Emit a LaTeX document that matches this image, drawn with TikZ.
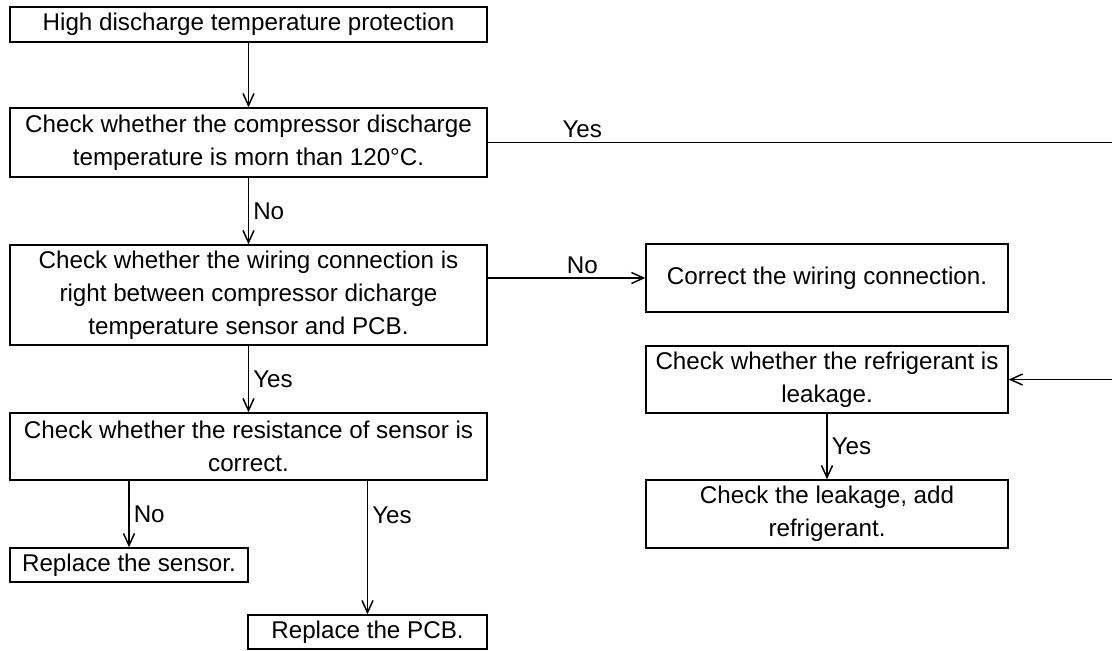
\documentclass[tikz,border=0pt]{standalone}
\usepackage{fontspec}
\setmainfont{Liberation Sans}
\usepackage{tikz}
\usetikzlibrary{arrows.meta,positioning,calc}

\begin{document}
\begin{tikzpicture}[x=0.5pt,y=-0.5pt,
        font=\fontsize{12.1}{16.5}\selectfont,
        box/.style={draw,line width=0.75pt,align=center,inner sep=0pt},
        flow/.style={line width=0.75pt,-{Straight Barb[length=6pt,width=5.5pt]}},
        lab/.style={inner sep=2pt}]
        \useasboundingbox (0,0) rectangle (1112,650);
        \node[box,minimum width=238.5pt,minimum height=17.5pt] (prot) at (248.5,24.5)
          {High discharge temperature protection};
        \node[box,minimum width=238.5pt,minimum height=34.5pt] (temp) at (248.5,142.5)
          {Check whether the compressor discharge\\temperature is morn than 120°C.};
        \node[box,minimum width=238.5pt,minimum height=50pt] (wire) at (248.5,295)
          {Check whether the wiring connection is\\right between compressor dicharge\\temperature sensor and PCB.};
        \node[box,minimum width=238.5pt,minimum height=33.5pt] (res) at (248.5,446.5)
          {Check whether the resistance of sensor is\\correct.};
        \node[box,minimum width=119pt,minimum height=17pt] (sens) at (129,565)
          {Replace the sensor.};
        \node[box,minimum width=119.5pt,minimum height=17pt] (pcb) at (367.5,632)
          {Replace the PCB.};
        \node[box,minimum width=181pt,minimum height=34pt] (fix) at (827,278)
          {Correct the wiring connection.};
        \node[box,minimum width=181pt,minimum height=33.5pt] (leak) at (827,379.5)
          {Check whether the refrigerant is\\leakage.};
        \node[box,minimum width=181pt,minimum height=34pt] (add) at (827,514)
          {Check the leakage, add\\refrigerant.};
        \coordinate (loop) at (1118,142.5);
        \draw[flow] (prot) -- (temp);
        \draw[flow] (temp) -- node[lab,right] {No} (wire);
        \draw[flow] (wire) -- node[lab,right] {Yes} (res);
        \draw[flow] (wire.east |- fix.west) -- node[lab,above,pos=0.6] {No} (fix.west);
        \draw[flow] (res.south -| sens.north) -- node[lab,right] {No} (sens.north);
        \draw[flow] (res.south -| pcb.north) -- node[lab,right,pos=0.26] {Yes} (pcb.north);
        \draw[flow] (temp.east) -- node[lab,above,pos=0.15] {Yes} (loop) |- (leak.east);
        \draw[flow] (leak) -- node[lab,right] {Yes} (add);
      \end{tikzpicture}
\end{document}
